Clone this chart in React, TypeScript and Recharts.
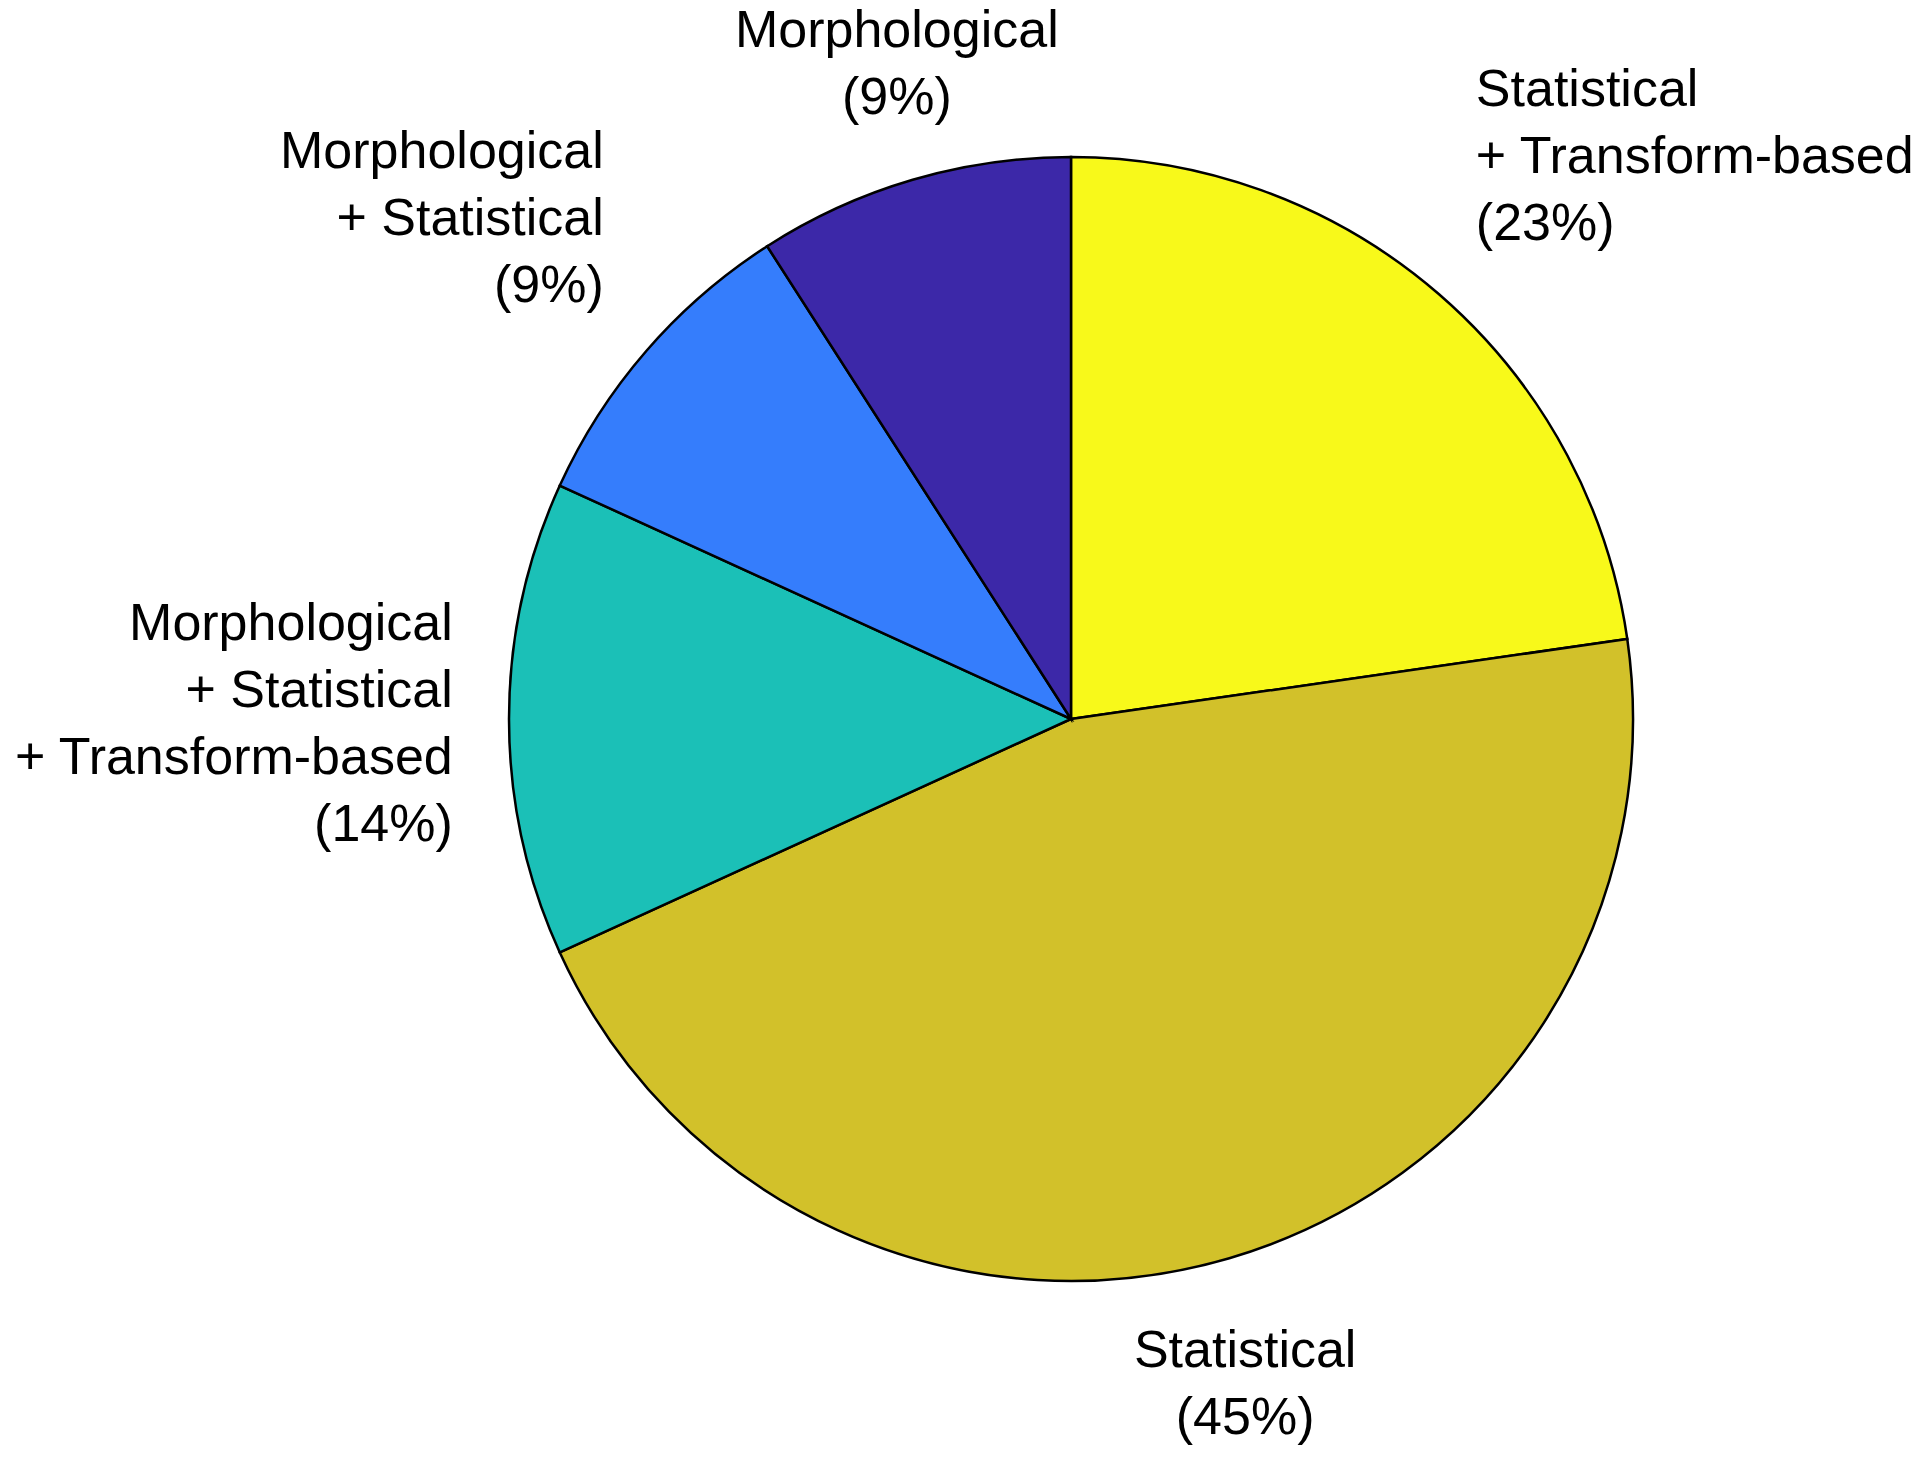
import { PieChart, Pie, Cell } from "recharts";

// feature-set categories, listed clockwise from 12 o'clock
const categories = [
	"Statistical\n+ Transform-based",
	"Statistical",
	"Morphological\n+ Statistical\n+ Transform-based",
	"Morphological\n+ Statistical",
	"Morphological",
];
const counts = [5, 10, 3, 2, 2];
const sliceColors = ["#F8F91A", "#D2C12A", "#1BC0B7", "#357DFC", "#3C28A8"];

const total = counts.reduce((a, b) => a + b, 0);
const data = categories.map((name, i) => ({ name, value: counts[i] }));

const RAD = Math.PI / 180;
const FONT_SIZE = 52;
const LINE_H = 67;

const renderLabel = (props: any) => {
	const { cx, cy, midAngle, outerRadius, index } = props;
	const r = outerRadius * 1.1;
	const dx = Math.cos(midAngle * RAD);
	const dy = Math.sin(midAngle * RAD); // up is positive
	const x = cx + r * dx;
	const y = cy - r * dy;

	const pct = Math.round((counts[index] / total) * 100);
	const lines = [...categories[index].split("\n"), `(${pct}%)`];

	let anchor: "start" | "middle" | "end" = "middle";
	if (Math.abs(dx) >= 0.5) anchor = dx > 0 ? "start" : "end";

	const blockH = lines.length * LINE_H;
	let top = y - blockH / 2;
	if (dy > 0.3) top = y - blockH;
	else if (dy < -0.3) top = y;

	return (
		<text
			key={`lbl-${index}`}
			textAnchor={anchor}
			fontFamily="'Liberation Sans', Arial, sans-serif"
			fontSize={FONT_SIZE}
			fill="#000"
		>
			{lines.map((ln, i) => (
				<tspan key={i} x={x} y={top + i * LINE_H + 55}>
					{ln}
				</tspan>
			))}
		</text>
	);
};

const App = () => {
	return (
		<div
			style={{
				position: "absolute",
				left: 0,
				top: 0,
				width: 1920,
				height: 1457,
				background: "#fff",
			}}
		>
			<PieChart width={1920} height={1457} margin={{ top: 0, right: 0, bottom: 0, left: 0 }}>
				<Pie
					data={data}
					dataKey="value"
					nameKey="name"
					cx={1071}
					cy={719}
					outerRadius={562}
					startAngle={90}
					endAngle={-270}
					stroke="#000"
					strokeWidth={2.5}
					label={renderLabel}
					labelLine={false}
					isAnimationActive={false}
				>
					{data.map((_, i) => (
						<Cell key={`cell-${i}`} fill={sliceColors[i]} />
					))}
				</Pie>
			</PieChart>
		</div>
	);
};

export default App;
